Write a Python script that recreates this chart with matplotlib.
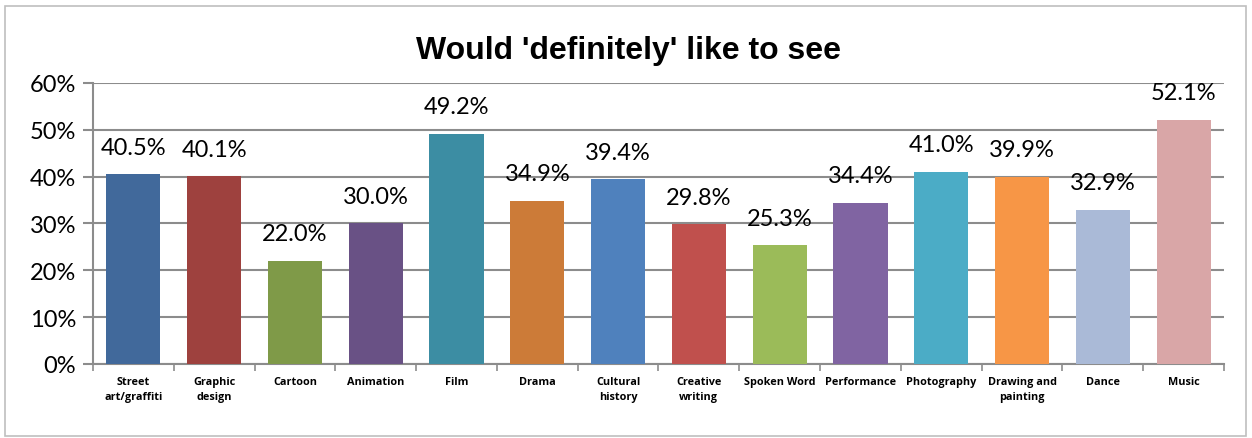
import matplotlib
matplotlib.use("Agg")
import matplotlib.pyplot as plt
from matplotlib.patches import Rectangle

categories = ["Street\nart/graffiti", "Graphic\ndesign", "Cartoon", "Animation", "Film",
              "Drama", "Cultural\nhistory", "Creative\nwriting", "Spoken Word",
              "Performance", "Photography", "Drawing and\npainting", "Dance", "Music"]
values = [40.5, 40.1, 22.0, 30.0, 49.2, 34.9, 39.4, 29.8, 25.3, 34.4, 41.0, 39.9, 32.9, 52.1]
colors = ["#41699B", "#9E413E", "#7F9A48", "#695185", "#3C8DA3", "#CC7B38", "#4F81BD",
          "#C0504D", "#9BBB59", "#8064A2", "#4BACC6", "#F79646", "#AABAD7", "#D9A6A7"]
yticks = [0, 10, 20, 30, 40, 50, 60]

GRID = "#8C8C8C"
body_font = ["Lato", "DejaVu Sans"]

fig = plt.figure(figsize=(12.52, 4.39), dpi=100)
ax = fig.add_axes([0.0743, 0.1686, 0.9033, 0.6401])

x = list(range(len(values)))
ax.bar(x, values, width=0.67, color=colors, zorder=3)
for xi, v in zip(x, values):
    ax.annotate(f"{v:.1f}%", (xi, v), xytext=(0, 12), textcoords="offset points",
                ha="center", va="bottom", fontsize=17, family=body_font)

ax.set_xlim(-0.5, len(values) - 0.5)
ax.set_ylim(0, 60)
ax.set_yticks(yticks)
ax.set_yticklabels([f"{t}%" for t in yticks], fontsize=17, family=body_font)
ax.yaxis.grid(True, color=GRID, linewidth=1.5, zorder=0)
ax.tick_params(axis="y", length=7, width=1.5, color=GRID, pad=5)

# category ticks sit between the bars, labels centred under each bar
ax.set_xticks([i - 0.5 for i in range(len(values) + 1)])
ax.set_xticklabels([])
ax.set_xticks(x, minor=True)
ax.set_xticklabels(categories, minor=True, fontsize=7.8, fontweight="bold",
                   family=["Open Sans", "DejaVu Sans"], linespacing=1.45, va="top")
ax.tick_params(axis="x", which="major", length=5, width=1.2, color=GRID)
ax.tick_params(axis="x", which="minor", length=0, pad=9)

for side in ["top", "right"]:
    ax.spines[side].set_visible(False)
for side in ["left", "bottom"]:
    ax.spines[side].set_color(GRID)
    ax.spines[side].set_linewidth(1.5)

fig.text(0.502, 0.883, "Would 'definitely' like to see", ha="center", va="center",
         fontsize=23, fontweight="bold", family=["Liberation Sans", "DejaVu Sans"])

fig.patches.append(Rectangle((0.004, 0.005), 0.991, 0.98, transform=fig.transFigure,
                             fill=False, edgecolor="#BFBFBF", linewidth=1.2))

fig.savefig("out.png", dpi=100, facecolor="white")
